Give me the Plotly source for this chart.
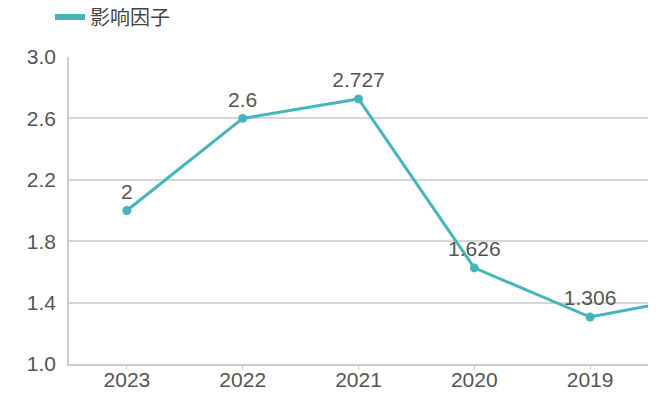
import plotly.graph_objects as go

years = ["2023", "2022", "2021", "2020", "2019", "2018"]
impact = [2.0, 2.6, 2.727, 1.626, 1.306, 1.45]
labels = ["2", "2.6", "2.727", "1.626", "1.306", ""]
series_name = "影响因子"

color = "#45B5B9"
font_family = "Liberation Sans, Noto Sans CJK SC, sans-serif"

fig = go.Figure()
fig.add_trace(go.Scatter(
    x=years, y=impact, mode="lines+markers+text",
    text=labels, textposition="top center",
    textfont=dict(size=21, color="#555555", family=font_family),
    line=dict(color=color, width=3),
    marker=dict(color=color, size=9),
    cliponaxis=True, showlegend=False, name=series_name,
))
fig.add_trace(go.Scatter(
    x=[None], y=[None], mode="lines", name=series_name,
    line=dict(color=color, width=6), showlegend=True,
))

fig.update_layout(
    width=660, height=388,
    margin=dict(l=61, r=20, t=49, b=32, autoexpand=False),
    paper_bgcolor="white", plot_bgcolor="white",
    font=dict(family=font_family, size=21, color="#555555"),
    legend=dict(orientation="h", x=42/660, xanchor="left", xref="container",
                y=1.13, yanchor="middle", yref="paper",
                font=dict(size=20, color="#444444"),
                itemwidth=30),
    xaxis=dict(
        type="category", range=[-0.5, 4.5],
        showline=True, linecolor="#cccccc", linewidth=1.5,
        showgrid=False, ticks="outside", ticklen=4, tickcolor="#cccccc",
        ticklabelstandoff=-8,
        tickfont=dict(size=21, color="#555555"), fixedrange=True,
    ),
    yaxis=dict(
        range=[1.0, 3.0], tickvals=[1.0, 1.4, 1.8, 2.2, 2.6, 3.0],
        ticktext=["1.0", "1.4", "1.8", "2.2", "2.6", "3.0"],
        showline=True, linecolor="#cccccc", linewidth=1.5,
        showgrid=True, gridcolor="#d6d6d6", gridwidth=1.5,
        zeroline=False, ticks="", ticklabelstandoff=7,
        tickfont=dict(size=21, color="#555555"),
    ),
)
fig.write_html("out.html")
